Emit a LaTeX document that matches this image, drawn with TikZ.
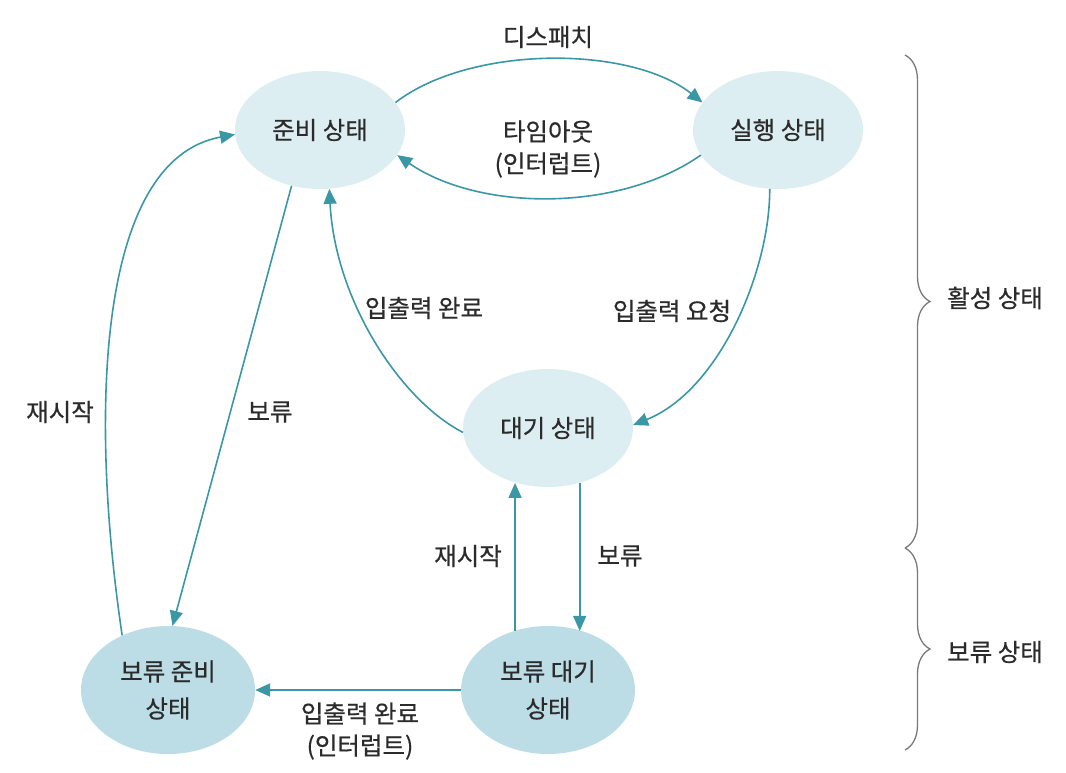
\documentclass[tikz,border=0pt]{standalone}
\usepackage{fontspec}
\setmainfont{Noto Sans CJK KR}[FakeBold=0.6]
\usetikzlibrary{arrows.meta,shapes.geometric,decorations.pathreplacing}
\definecolor{edgec}{HTML}{3A98A6}
\definecolor{lightfill}{HTML}{DDEEF3}
\definecolor{darkfill}{HTML}{BCDDE6}
\definecolor{txt}{HTML}{2B2B2B}
\definecolor{bracec}{HTML}{7A7A7A}
\begin{document}
\begin{tikzpicture}[x=1pt,y=-1pt,
  state/.style={ellipse,fill=lightfill,minimum width=170pt,minimum height=118pt,inner sep=0pt,text=txt,font=\fontsize{24.5}{37}\selectfont,align=center},
  hstate/.style={state,fill=darkfill,minimum width=174pt,minimum height=128pt},
  conn/.style={draw=edgec,line width=1.6pt,-{Triangle[length=15pt,width=13pt]}},
  lbl/.style={text=txt,font=\fontsize{24.5}{32}\selectfont,align=center,inner sep=0pt},
  bracestyle/.style={draw=bracec,line width=1.3pt,decorate,decoration={brace,amplitude=25pt}}]
\useasboundingbox (0,0) rectangle (1066,772);
\node[state] (rdy) at (320,130) {준비 상태};
\node[state] (run) at (778,130) {실행 상태};
\node[state] (wait) at (548,428) {대기 상태};
\node[hstate] (hrdy) at (168,690) {보류 준비\\상태};
\node[hstate] (hwait) at (548,690) {보류 대기\\상태};
% edges
\draw[conn] (rdy.20) .. controls (470,45) and (630,45) .. (run.160);
\draw[conn] (run.198) .. controls (620,212) and (480,212) .. (rdy.-18);
\draw[conn] (run.262) .. controls (770,270) and (720,390) .. (wait.2);
\draw[conn] (wait.183) .. controls (400,400) and (335,300) .. (rdy.279);
\draw[conn] (rdy.243) -- (hrdy.86);
\draw[conn] (hrdy.130) .. controls (90,420) and (95,160) .. (rdy.183);
\draw[conn] (hwait.119) -- (hwait.119 |- wait.240);
\draw[conn] (wait.300) -- (wait.300 |- hwait.60);
\draw[conn] (hwait.west) -- (hrdy.east);
% labels
\node[lbl] (l1) at (548,37) {디스패치};
\node[lbl] (l2) at (548,149) {타임아웃\\(인터럽트)};
\node[lbl] (l3) at (672,311) {입출력 요청};
\node[lbl] (l4) at (424,308) {입출력 완료};
\node[lbl] (l5) at (270,412) {보류};
\node[lbl] (l6) at (60,412) {재시작};
\node[lbl] (l7) at (468,556) {재시작};
\node[lbl] (l8) at (620,556) {보류};
\node[lbl] (l9) at (360,731) {입출력 완료\\(인터럽트)};
\node[lbl] (g1) at (995,298) {활성 상태};
\node[lbl] (g2) at (995,652) {보류 상태};
% braces
\coordinate (b1) at (905,55);
\coordinate (b2) at (905,548);
\coordinate (b3) at (905,750);
\draw[bracestyle] (b1) -- (b2);
\draw[bracestyle] (b2) -- (b3);
\end{tikzpicture}
\end{document}
